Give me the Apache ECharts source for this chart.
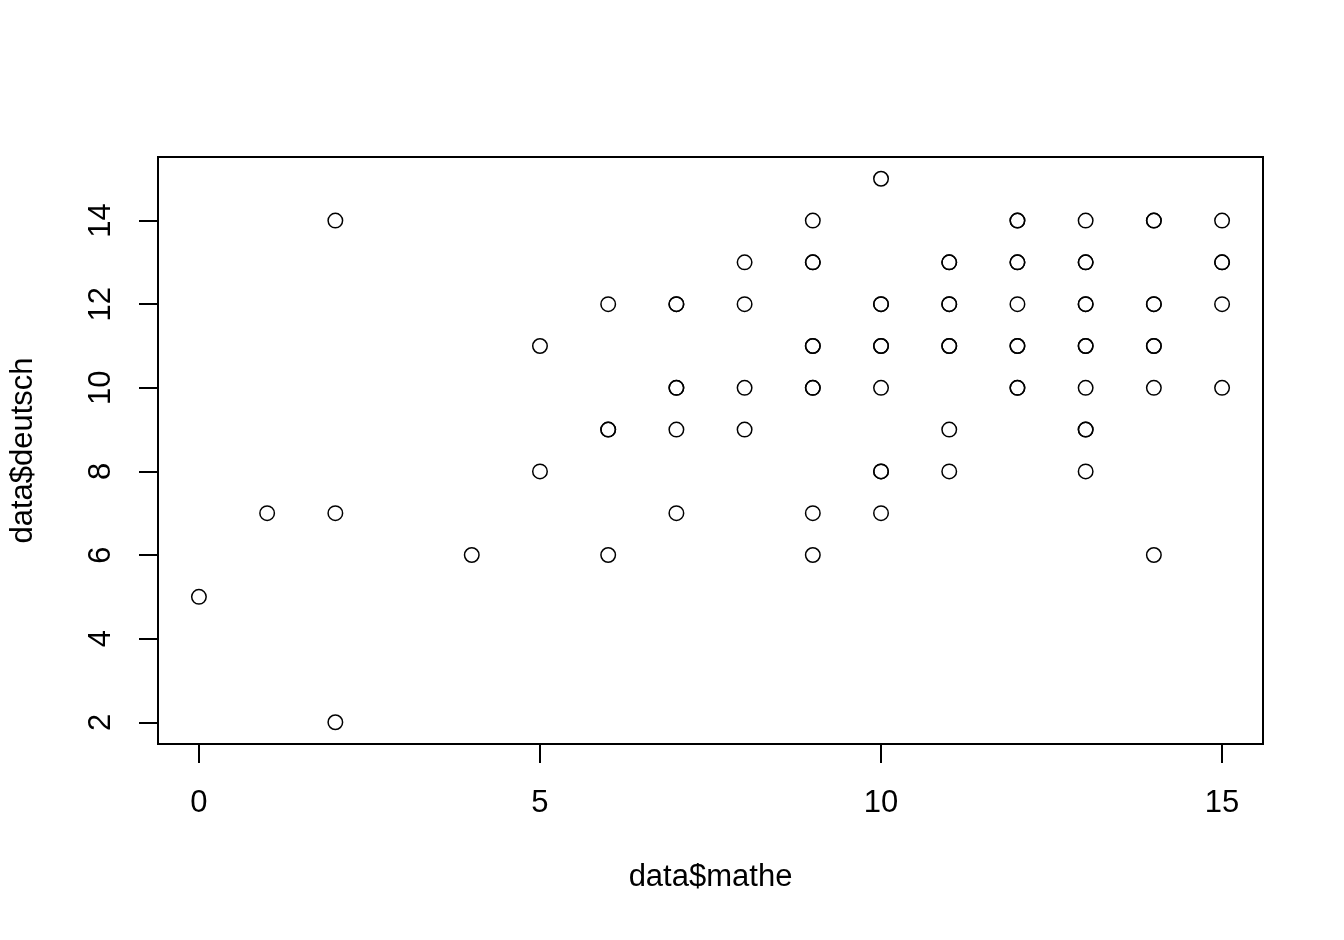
<!DOCTYPE html>
<html>
<head>
<meta charset="utf-8">
<script src="https://cdn.jsdelivr.net/npm/echarts@6/dist/echarts.min.js"></script>
<style>
html,body{margin:0;padding:0;background:#fff;}
#chart{width:1344px;height:940px;}
</style>
</head>
<body>
<div id="chart"></div>
<script>
// data$mathe (x) and data$deutsch (y), paired; repeated pairs are drawn on top of each other
const mathe = [
  0,
  1,
  2, 2, 2,
  4,
  5, 5,
  6, 6, 6, 6,
  7, 7, 7, 7, 7, 7,
  8, 8, 8, 8,
  9, 9, 9, 9, 9, 9, 9, 9, 9,
  10, 10, 10, 10, 10, 10, 10, 10, 10,
  11, 11, 11, 11, 11, 11, 11, 11,
  12, 12, 12, 12, 12, 12, 12, 12, 12,
  13, 13, 13, 13, 13, 13, 13, 13, 13, 13, 13,
  14, 14, 14, 14, 14, 14, 14, 14,
  15, 15, 15, 15, 15
];
const deutsch = [
  5,
  7,
  14, 7, 2,
  6,
  11, 8,
  12, 9, 9, 6,
  12, 12, 10, 10, 9, 7,
  13, 12, 10, 9,
  14, 13, 13, 11, 11, 10, 10, 7, 6,
  15, 12, 12, 11, 11, 10, 8, 8, 7,
  13, 13, 12, 12, 11, 11, 9, 8,
  14, 14, 13, 13, 12, 11, 11, 10, 10,
  14, 13, 13, 12, 12, 11, 11, 10, 9, 9, 8,
  14, 14, 12, 12, 11, 11, 10, 6,
  14, 13, 13, 12, 10
];
const xTicks = [0, 5, 10, 15];
const yTicks = [2, 4, 6, 8, 10, 12, 14];
const xName = 'data$mathe';
const yName = 'data$deutsch';

const points = mathe.map((m, i) => [m, deutsch[i]]);
const FONT = "'Liberation Sans', Arial, Helvetica, sans-serif";
const FS = 31;

const chart = echarts.init(document.getElementById('chart'), null, {renderer: 'canvas'});
chart.setOption({
  animation: false,
  backgroundColor: '#ffffff',
  grid: {
    left: 157, top: 157, width: 1106, height: 587,
    show: true, borderColor: '#000', borderWidth: 2, backgroundColor: 'transparent',
    containLabel: false
  },
  xAxis: {
    type: 'value',
    min: -0.6, max: 15.6,
    name: xName,
    nameLocation: 'middle',
    nameGap: 118,
    nameTextStyle: {fontFamily: FONT, fontSize: FS, color: '#000'},
    axisLine: {show: false, onZero: false},
    splitLine: {show: false},
    axisTick: {show: true, customValues: xTicks, length: 19, inside: false,
      lineStyle: {color: '#000', width: 2}},
    axisLabel: {show: true, customValues: xTicks, margin: 44,
      fontFamily: FONT, fontSize: FS, color: '#000'}
  },
  yAxis: {
    type: 'value',
    min: 1.48, max: 15.52,
    name: yName,
    nameLocation: 'middle',
    nameRotate: 90,
    nameGap: 119,
    nameTextStyle: {fontFamily: FONT, fontSize: FS, color: '#000'},
    axisLine: {show: false, onZero: false},
    splitLine: {show: false},
    axisTick: {show: true, customValues: yTicks, length: 19, inside: false,
      lineStyle: {color: '#000', width: 2}},
    axisLabel: {show: true, customValues: yTicks, rotate: 90, margin: 41,
      fontFamily: FONT, fontSize: FS, color: '#000'}
  },
  series: [{
    type: 'scatter',
    data: points,
    symbol: 'circle',
    symbolSize: 14.5,
    itemStyle: {color: 'rgba(0,0,0,0)', borderColor: '#000', borderWidth: 1.5, opacity: 1},
    emphasis: {disabled: true}
  }]
});
</script>
</body>
</html>
